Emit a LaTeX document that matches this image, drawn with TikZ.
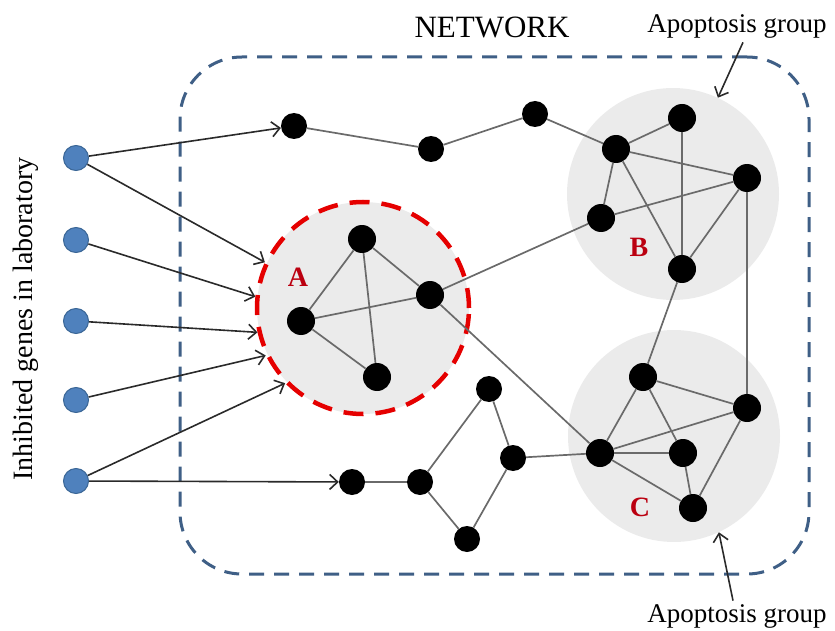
\documentclass[tikz,border=0pt]{standalone}
\usepackage{fontspec}
\setmainfont{Liberation Serif}
\usetikzlibrary{arrows.meta}
\definecolor{netblue}{HTML}{3F5F86}
\definecolor{genefill}{HTML}{4F81BD}
\definecolor{geneedge}{HTML}{3A6696}
\definecolor{groupfill}{HTML}{EBEBEB}
\definecolor{labred}{HTML}{BB0010}
\definecolor{linkgray}{HTML}{6A6A6A}
\definecolor{arrowdark}{HTML}{2A2A2A}
\tikzset{
  gene/.style={circle, fill=genefill, draw=geneedge, line width=1pt, minimum size=25pt, inner sep=0pt},
  hub/.style={circle, fill=black, minimum size=28pt, inner sep=0pt},
  vert/.style={circle, fill=black, minimum size=26pt, inner sep=0pt},
  group/.style={circle, fill=groupfill, minimum size=212pt, inner sep=0pt},
  link/.style={draw=linkgray, line width=1.7pt},
  arr/.style={draw=arrowdark, line width=1.6pt, -{Straight Barb[length=8pt,width=15pt,line width=1.6pt]}},
  grouplabel/.style={font=\fontsize{28}{28}\selectfont\bfseries, text=labred},
  caption/.style={font=\fontsize{28}{28}\selectfont, text=black}
}
\begin{document}
\begin{tikzpicture}[x=1pt, y=-1pt]
\useasboundingbox (0,0) rectangle (835,631);

% shaded groups
\node[group, draw=red!90!black, line width=4.5pt, dash pattern=on 20pt off 12pt] (cA) at (363,308) {};
\node[group] (cB) at (673,194) {};
\node[group] (cC) at (674,436) {};

% network frame
\node[draw=netblue, line width=3pt, dash pattern=on 15pt off 10pt, rounded corners=62pt,
      minimum width=629pt, minimum height=517pt, inner sep=0pt] (frame) at (494.5,315.5) {};

% captions
\node[caption, anchor=base, font=\fontsize{31}{31}\selectfont] (net) at (492,38) {NETWORK};
\node[caption, anchor=base, font=\fontsize{27}{27}\selectfont] (apTop) at (737,33) {Apoptosis group};
\node[caption, anchor=base, font=\fontsize{27}{27}\selectfont] (apBot) at (737,622) {Apoptosis group};
\node[caption, rotate=90] (inhib) at (26,319) {Inhibited genes in laboratory};

% group labels
\node[grouplabel] (lA) at (298,277) {A};
\node[grouplabel] (lB) at (639,247) {B};
\node[grouplabel] (lC) at (640,507) {C};

% inhibited genes
\node[gene] (g1) at (76,158) {};
\node[gene] (g2) at (76,240) {};
\node[gene] (g3) at (76,321) {};
\node[gene] (g4) at (76,400) {};
\node[gene] (g5) at (76,481) {};

% upper chain
\node[vert] (n1) at (294,126) {};
\node[vert] (n2) at (431,149) {};
\node[vert] (n3) at (535,114) {};

% group A
\node[hub] (a1) at (362,239) {};
\node[hub] (a2) at (430,295) {};
\node[hub] (a3) at (301,321) {};
\node[hub] (a4) at (377,377) {};

% group B
\node[hub] (b1) at (616,149) {};
\node[hub] (b2) at (682,118) {};
\node[hub] (b3) at (747,178) {};
\node[hub] (b4) at (601,218) {};
\node[hub] (b5) at (682,269) {};

% group C
\node[hub] (c1) at (643,377) {};
\node[hub] (c2) at (747,408) {};
\node[hub] (c3) at (600,453) {};
\node[hub] (c4) at (683,453) {};
\node[hub] (c5) at (693,508) {};

% lower chain
\node[vert] (p1) at (352,482) {};
\node[vert] (p2) at (420,482) {};
\node[vert] (p3) at (489,389) {};
\node[vert] (p4) at (513,458) {};
\node[vert] (p5) at (467,539) {};

% links
\draw[link] (n1) -- (n2) -- (n3) -- (b1);
\draw[link] (a1) -- (a3) (a1) -- (a4) (a1) -- (a2) (a3) -- (a2) (a3) -- (a4);
\draw[link] (a2) -- (b4) (a2) -- (c3);
\draw[link] (b1) -- (b2) (b1) -- (b3) (b1) -- (b4) (b1) -- (b5)
            (b2) -- (b5) (b4) -- (b3) (b3) -- (b5);
\draw[link] (b3) -- (c2) (b5) -- (c1);
\draw[link] (c1) -- (c2) (c1) -- (c3) (c1) -- (c4) (c3) -- (c2)
            (c3) -- (c4) (c3) -- (c5) (c4) -- (c5) (c2) -- (c5);
\draw[link] (p1) -- (p2) (p2) -- (p3) (p2) -- (p5) (p3) -- (p4) (p5) -- (p4) (p4) -- (c3);

% knock-down arrows
\draw[arr] (g1) -- (n1);
\draw[arr] (g1) -- (cA.155);
\draw[arr] (g2) -- (cA.174);
\draw[arr] (g3) -- (cA.193);
\draw[arr] (g4) -- (cA.206);
\draw[arr] (g5) -- (cA.224);
\draw[arr] (g5) -- (p1);

% pointers to the apoptosis groups
\draw[arr] ([xshift=6pt]apTop.south) -- (cB.65);
\draw[arr] ([xshift=-4pt]apBot.north) -- (cC.-65);
\end{tikzpicture}
\end{document}
